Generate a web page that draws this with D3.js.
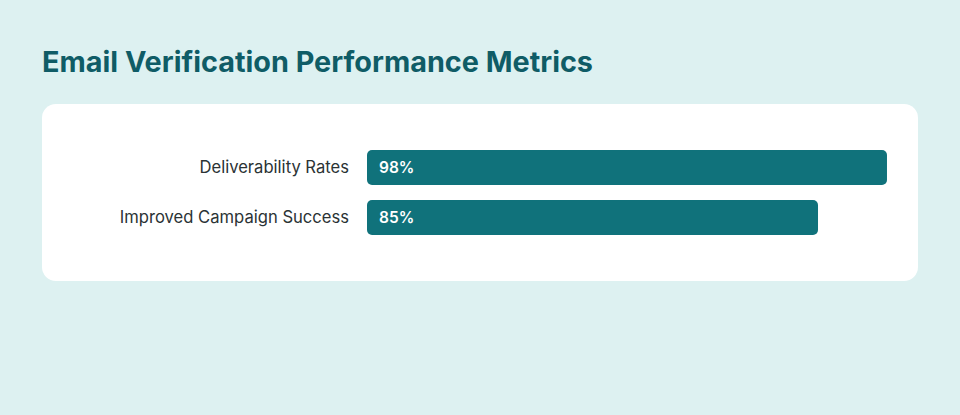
<html>
<head>
  <script src="https://cdn.jsdelivr.net/npm/d3@7"></script>
  <style>
    body { margin:0; background:#ddf1f1; }
  </style>
</head>
<body>
  <div id="chart"></div>
  <script>
  var categories = ["Deliverability Rates", "Improved Campaign Success"]
  var values = [98, 85]
  var valueLabels = ["98%", "85%"]

  var W = 960, H = 415
  var svg = d3.select("#chart").append("svg")
      .attr("width", W).attr("height", H)

  svg.append("rect").attr("width", W).attr("height", H).attr("fill", "#ddf1f1")

  var title = svg.append("text")
      .attr("x", 42).attr("y", 72)
      .style("font-family", "Inter, sans-serif")
      .style("font-weight", 700)
      .style("font-size", "28px")
      .style("fill", "#0f5c66")
      .text("Email Verification Performance Metrics")
  // stretch the title to match the reference width
  title.attr("textLength", 551).attr("lengthAdjust", "spacingAndGlyphs")

  // card
  svg.append("rect")
      .attr("x", 42).attr("y", 104).attr("width", 876).attr("height", 177)
      .attr("rx", 14)
      .attr("fill", "#ffffff")

  var x = d3.scaleLinear().domain([0, 100]).range([367, 897.6])
  var y = d3.scaleBand().domain(categories).range([150, 235]).paddingInner(0.3).paddingOuter(0)

  var g = svg.append("g")

  g.selectAll("rect.bar").data(values).enter().append("rect")
      .attr("class", "bar")
      .attr("x", x(0))
      .attr("y", function(d, i) { return y(categories[i]) })
      .attr("width", function(d) { return x(d) - x(0) })
      .attr("height", y.bandwidth())
      .attr("rx", 5)
      .attr("fill", "#10727b")

  g.selectAll("text.cat").data(categories).enter().append("text")
      .attr("class", "cat")
      .attr("x", 349)
      .attr("y", function(d) { return y(d) + y.bandwidth() / 2 })
      .attr("dy", "0.35em")
      .attr("text-anchor", "end")
      .style("font-family", "Inter, sans-serif")
      .style("font-size", "16.6px")
      .style("fill", "#2b3335")
      .text(function(d) { return d })

  g.selectAll("text.val").data(valueLabels).enter().append("text")
      .attr("class", "val")
      .attr("x", x(0) + 12)
      .attr("y", function(d, i) { return y(categories[i]) + y.bandwidth() / 2 })
      .attr("dy", "0.35em")
      .style("font-family", "Inter, sans-serif")
      .style("font-weight", 600)
      .style("font-size", "15.5px")
      .style("fill", "#ffffff")
      .text(function(d) { return d })
  </script>
</body>
</html>
